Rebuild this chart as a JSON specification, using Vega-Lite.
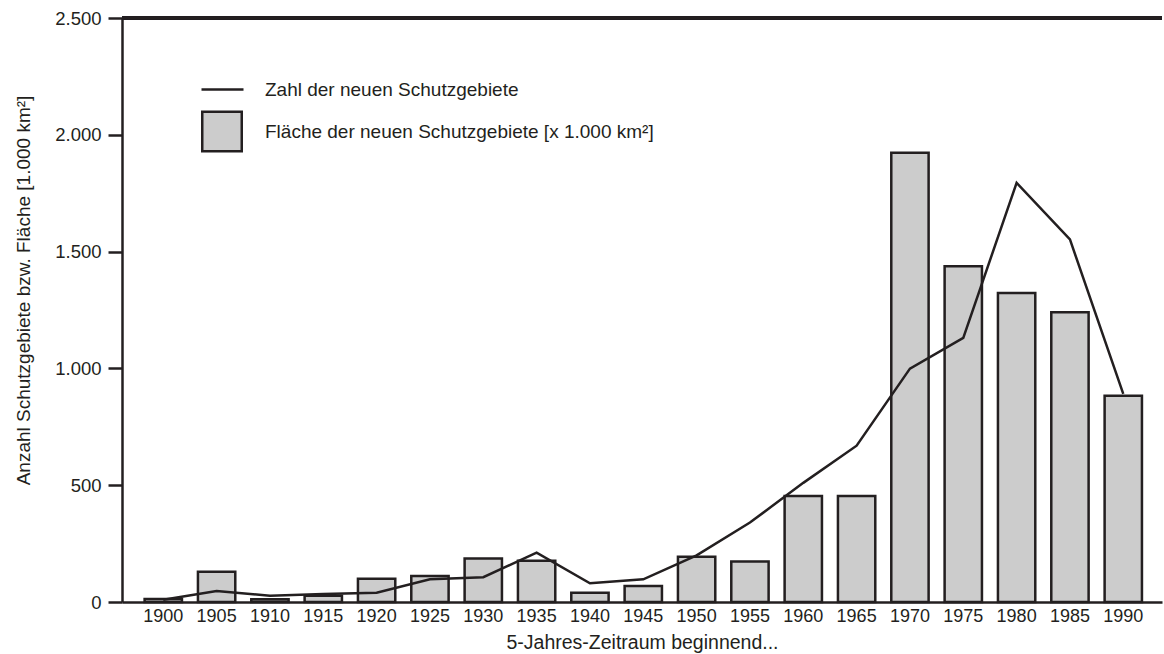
{
  "$schema": "https://vega.github.io/schema/vega-lite/v6.json",
  "width": 1040,
  "height": 584,
  "autosize": {"type": "none"},
  "padding": {"left": 122, "top": 18, "right": 2, "bottom": 52},
  "background": "white",
  "config": {
    "view": {"stroke": null},
    "font": "Liberation Sans"
  },
  "data": {
    "values": [
      {"jahr": "1900", "flaeche": 13, "anzahl": 10},
      {"jahr": "1905", "flaeche": 130, "anzahl": 47},
      {"jahr": "1910", "flaeche": 12, "anzahl": 27},
      {"jahr": "1915", "flaeche": 27, "anzahl": 34},
      {"jahr": "1920", "flaeche": 100, "anzahl": 40},
      {"jahr": "1925", "flaeche": 111, "anzahl": 97},
      {"jahr": "1930", "flaeche": 186, "anzahl": 106},
      {"jahr": "1935", "flaeche": 177, "anzahl": 211},
      {"jahr": "1940", "flaeche": 40, "anzahl": 80},
      {"jahr": "1945", "flaeche": 69, "anzahl": 97},
      {"jahr": "1950", "flaeche": 194, "anzahl": 200},
      {"jahr": "1955", "flaeche": 173, "anzahl": 340},
      {"jahr": "1960", "flaeche": 454, "anzahl": 510},
      {"jahr": "1965", "flaeche": 454, "anzahl": 669},
      {"jahr": "1970", "flaeche": 1923, "anzahl": 999},
      {"jahr": "1975", "flaeche": 1437, "anzahl": 1131},
      {"jahr": "1980", "flaeche": 1323, "anzahl": 1794},
      {"jahr": "1985", "flaeche": 1240, "anzahl": 1552},
      {"jahr": "1990", "flaeche": 883, "anzahl": 891}
    ]
  },
  "layer": [
    {
      "mark": {"type": "bar", "stroke": "#231f20", "strokeWidth": 2.5},
      "encoding": {
        "x": {
          "field": "jahr",
          "type": "ordinal",
          "scale": {"paddingInner": 0.3, "paddingOuter": 0.4, "align": 0.53},
          "axis": {
            "title": "5-Jahres-Zeitraum beginnend...",
            "labelAngle": 0,
            "ticks": false,
            "domainColor": "#231f20",
            "domainWidth": 2.5,
            "labelPadding": 5,
            "labelFontSize": 18,
            "labelColor": "#231f20",
            "titleFontSize": 19.5,
            "titleFontWeight": "normal",
            "titlePadding": 8,
            "titleColor": "#231f20"
          }
        },
        "y": {
          "field": "flaeche",
          "type": "quantitative",
          "scale": {"domain": [0, 2500], "nice": false, "zero": true},
          "axis": {
            "values": [0, 500, 1000, 1500, 2000, 2500],
            "labelExpr": "replace(format(datum.value, ','), ',', '.')",
            "title": "Anzahl Schutzgebiete bzw. Fläche [1.000 km²]",
            "grid": false,
            "domainColor": "#231f20",
            "domainWidth": 2.5,
            "tickColor": "#231f20",
            "tickWidth": 2.5,
            "tickSize": 14,
            "labelPadding": 7,
            "labelFontSize": 18.5,
            "labelColor": "#231f20",
            "titleFontSize": 19,
            "titleFontWeight": "normal",
            "titleColor": "#231f20",
            "titleX": -93,
            "titleY": 272,
            "titleAngle": -90,
            "titleBaseline": "alphabetic",
            "titleAlign": "center"
          }
        },
        "fill": {
          "datum": "Fläche der neuen Schutzgebiete [x 1.000 km²]",
          "type": "nominal",
          "scale": {"range": ["#cccccc"]},
          "legend": {
            "title": null,
            "orient": "none",
            "legendX": 79,
            "legendY": 92.5,
            "padding": 0,
            "symbolType": "square",
            "symbolSize": 1560,
            "symbolFillColor": "#cccccc",
            "symbolStrokeColor": "#231f20",
            "symbolStrokeWidth": 2.5,
            "symbolOpacity": 1,
            "labelOffset": 22,
            "labelFontSize": 19,
            "labelLimit": 0,
            "labelFont": "Liberation Sans",
            "labelColor": "#231f20"
          }
        }
      }
    },
    {
      "mark": {"type": "line", "strokeWidth": 2.5},
      "encoding": {
        "x": {"field": "jahr", "type": "ordinal"},
        "y": {"field": "anzahl", "type": "quantitative"},
        "stroke": {
          "datum": "Zahl der neuen Schutzgebiete",
          "type": "nominal",
          "scale": {"range": ["#231f20"]},
          "legend": {
            "title": null,
            "orient": "none",
            "legendX": 78,
            "legendY": 49,
            "padding": 0,
            "symbolType": "stroke",
            "symbolSize": 1764,
            "symbolStrokeColor": "#231f20",
            "symbolStrokeWidth": 2.5,
            "symbolOpacity": 1,
            "labelOffset": 20,
            "labelFontSize": 19,
            "labelLimit": 0,
            "labelFont": "Liberation Sans",
            "labelColor": "#231f20"
          }
        }
      }
    },
    {
      "mark": {"type": "rule", "strokeWidth": 2.5, "color": "#231f20"},
      "encoding": {"y": {"datum": 2500}}
    }
  ]
}
